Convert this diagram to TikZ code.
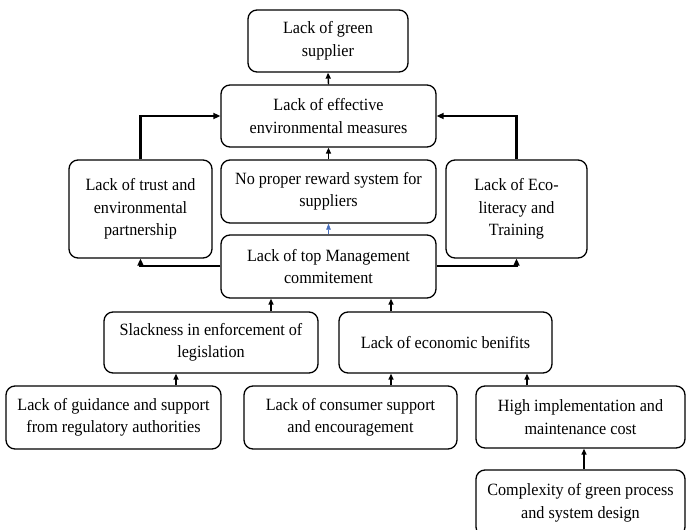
\documentclass[tikz,border=0pt]{standalone}
\usepackage{fontspec}
\setmainfont[FakeStretch=0.94]{Liberation Serif}
\usetikzlibrary{arrows.meta}
\begin{document}
\begin{tikzpicture}[x=1pt,y=-1pt,
  box/.style={draw, line width=1.3pt, rounded corners=9pt, align=center, inner sep=0pt,
    font=\fontsize{17.2}{22.5}\selectfont},
  conn/.style={line width=1.4pt, -{Triangle[length=6pt,width=5pt]}},
  thickconn/.style={line width=2.6pt, -{Triangle[length=7pt,width=6pt]}},
  blueconn/.style={line width=0.6pt, draw={rgb,255:red,70;green,110;blue,190}, -{Triangle[length=6pt,width=4.5pt]}, fill={rgb,255:red,70;green,110;blue,190}}
]
\useasboundingbox (0,0) rectangle (686,530);
\fill[white] (0,0) rectangle (686,530);
% boxes: center, width, height
\node[box, minimum width=160pt, minimum height=62pt] (green) at (328,41) {Lack of green\\supplier};
\node[box, minimum width=215pt, minimum height=62pt] (meas) at (328.5,116) {Lack of effective\\environmental measures};
\node[box, minimum width=215pt, minimum height=63pt] (reward) at (328.5,191.5) {No proper reward system for\\suppliers};
\node[box, minimum width=143pt, minimum height=98pt] (trust) at (140.5,209) {Lack of trust and\\environmental\\partnership};
\node[box, minimum width=141pt, minimum height=98pt] (eco) at (516.5,209) {Lack of Eco-\\literacy and\\Training};
\node[box, minimum width=215pt, minimum height=63pt] (top) at (328.5,266.5) {Lack of top Management\\commitement};
\node[box, minimum width=214pt, minimum height=61pt] (slack) at (211,342.5) {Slackness in enforcement of\\legislation};
\node[box, minimum width=213pt, minimum height=61pt] (econ) at (445.5,342.5) {Lack of economic benifits};
\node[box, minimum width=215pt, minimum height=63pt] (guid) at (113.5,417.5) {Lack of guidance and support\\from regulatory authorities};
\node[box, minimum width=213pt, minimum height=63pt] (cons) at (350.5,417.5) {Lack of consumer support\\and encouragement};
\node[box, minimum width=209pt, minimum height=62pt] (high) at (580.5,417) {High implementation and\\maintenance cost};
\node[box, minimum width=209pt, minimum height=66pt] (comp) at (580.5,503) {Complexity of green process\\and system design};
% connectors
\draw[conn] (meas.north) -- (green.south);
\draw[conn] (reward.north) -- (meas.south);
\draw[blueconn] (top.north) -- (reward.south);
\draw[thickconn] (trust.north) |- (meas.west);
\draw[thickconn] (eco.north) |- (meas.east);
\draw[thickconn] (top.west |- 0,266) -| (trust.south);
\draw[thickconn] (top.east |- 0,266) -| (eco.south);
\draw[conn] (slack.north -| 271,0) -- (top.south -| 271,0);
\draw[conn] (econ.north -| 391,0) -- (top.south -| 391,0);
\draw[conn] (guid.north -| 176,0) -- (slack.south -| 176,0);
\draw[conn] (cons.north -| 391,0) -- (econ.south -| 391,0);
\draw[conn] (high.north -| 527,0) -- (econ.south -| 527,0);
\draw[conn] (comp.north -| 584,0) -- (high.south -| 584,0);
\end{tikzpicture}
\end{document}
